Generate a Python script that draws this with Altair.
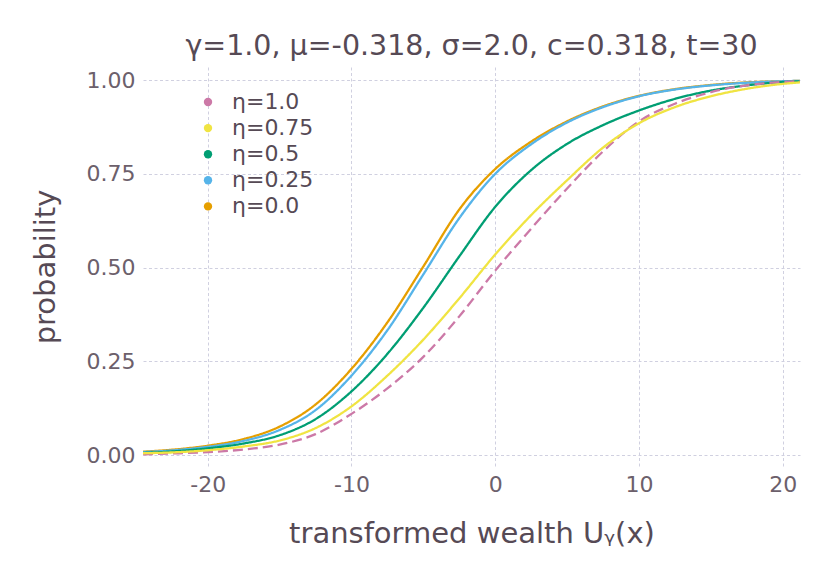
import altair as alt
import pandas as pd

x_vals = [-24.5, -22, -20, -17.5, -15, -12.5, -10, -7.5, -5, -2.5, 0, 2.5, 5, 7.5, 10, 12.5, 15, 17.5, 20, 21.2]

eta_10 = [0.002, 0.005, 0.008, 0.015, 0.028, 0.056, 0.110, 0.178, 0.262, 0.370, 0.492, 0.604, 0.711, 0.810, 0.890, 0.937, 0.968, 0.986, 0.995, 0.997]
eta_075 = [0.005, 0.008, 0.013, 0.023, 0.039, 0.072, 0.130, 0.212, 0.308, 0.418, 0.535, 0.640, 0.733, 0.820, 0.885, 0.928, 0.957, 0.977, 0.990, 0.994]
eta_05 = [0.006, 0.011, 0.018, 0.031, 0.053, 0.096, 0.170, 0.270, 0.393, 0.530, 0.662, 0.760, 0.830, 0.880, 0.919, 0.950, 0.972, 0.986, 0.995, 0.997]
eta_025 = [0.008, 0.014, 0.022, 0.038, 0.067, 0.120, 0.212, 0.333, 0.482, 0.632, 0.750, 0.829, 0.887, 0.928, 0.957, 0.975, 0.986, 0.993, 0.997, 0.998]
eta_00 = [0.009, 0.016, 0.025, 0.043, 0.076, 0.135, 0.230, 0.354, 0.503, 0.655, 0.763, 0.836, 0.890, 0.930, 0.958, 0.976, 0.987, 0.994, 0.997, 0.998]

series_names = ["η=1.0", "η=0.75", "η=0.5", "η=0.25", "η=0.0"]
series_colors = ["#CC79A7", "#F0E442", "#009E73", "#56B4E9", "#E69F00"]
series_dash = [[10, 5], [1, 0], [1, 0], [1, 0], [1, 0]]
series_values = [eta_10, eta_075, eta_05, eta_025, eta_00]
draw_sequence = ["η=0.0", "η=0.25", "η=0.5", "η=1.0", "η=0.75"]

x_ticks = [-20, -10, 0, 10, 20]
y_ticks = [0, 0.25, 0.5, 0.75, 1.0]

lookup = dict(zip(series_names, series_values))
rows = []
for name in draw_sequence:
    for xv, yv in zip(x_vals, lookup[name]):
        rows.append({"x": xv, "p": yv, "series": name, "label": name})
df = pd.DataFrame(rows)

TEXT = "#564A55"
TICK = "#6C606B"
GRID = "#D0D0E0"
FONT = "DejaVu Sans"

x_enc = alt.X("x:Q",
              scale=alt.Scale(domain=[-24.5, 21.2], nice=False, zero=False),
              axis=alt.Axis(values=x_ticks, labelExpr="'' + datum.value",
                            title="transformed wealth Uᵧ(x)",
                            titleBaseline="alphabetic", titleY=76, labelPadding=8))
y_enc = alt.Y("p:Q",
              scale=alt.Scale(domain=[-0.029, 1.035], nice=False, zero=False),
              axis=alt.Axis(values=y_ticks, format=".2f", title="probability",
                            titleBaseline="alphabetic", titleX=-89, titleY=199.5,
                            titleAngle=-90, titleAlign="center", labelPadding=8))

lines = alt.Chart(df).mark_line(interpolate="monotone", clip=True, strokeWidth=2.3).encode(
    x=x_enc,
    y=y_enc,
    stroke=alt.Stroke("series:N",
                      scale=alt.Scale(domain=series_names, range=series_colors),
                      legend=None),
    strokeDash=alt.StrokeDash("series:N",
                              scale=alt.Scale(domain=series_names, range=series_dash),
                              legend=None),
)

legend_pts = alt.Chart(df).transform_filter("datum.x > 1000").mark_point(
    filled=True, opacity=1, shape="circle", size=70
).encode(
    x=alt.X("x:Q"),
    y=alt.Y("p:Q"),
    fill=alt.Fill("label:N",
                  scale=alt.Scale(domain=series_names, range=series_colors),
                  legend=alt.Legend(orient="none", legendX=54, legendY=24, title=None,
                                    symbolType="circle", symbolSize=70, symbolStrokeWidth=0,
                                    symbolOpacity=1,
                                    labelFontSize=22, labelColor=TEXT, labelFont=FONT,
                                    labelOffset=13, rowPadding=4.1, padding=0)),
)

chart = alt.layer(lines, legend_pts).resolve_scale(fill="independent", stroke="independent").properties(
    width=657, height=399,
    autosize=alt.AutoSizeParams(type="none"),
    padding={"left": 135, "top": 59, "right": 10, "bottom": 105},
    title=alt.TitleParams("γ=1.0, μ=-0.318, σ=2.0, c=0.318, t=30", fontSize=28.5,
                          font=FONT, color=TEXT, fontWeight="normal", anchor="middle",
                          baseline="alphabetic", offset=-16),
).configure_view(stroke=None).configure_axis(
    grid=True, gridColor=GRID, gridDash=[3, 2.5], gridWidth=1,
    domain=False, ticks=False,
    labelFont=FONT, labelFontSize=22, labelColor=TICK,
    titleFont=FONT, titleFontSize=29, titleColor=TEXT, titleFontWeight="normal",
)

chart.save("out.html", embed_options={"renderer": "svg", "actions": False})
